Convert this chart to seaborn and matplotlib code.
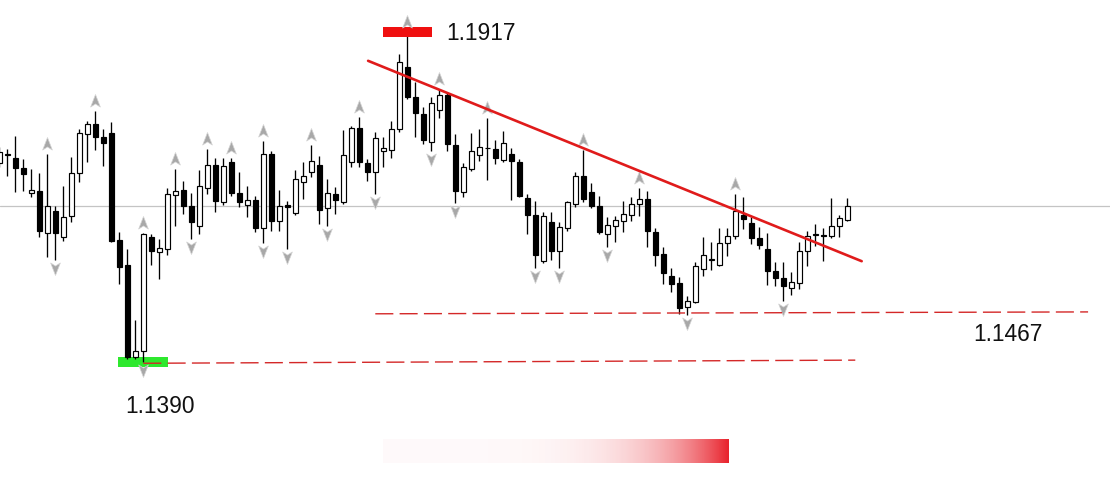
import numpy as np
import pandas as pd
import matplotlib
matplotlib.use("Agg")
import matplotlib.pyplot as plt
import seaborn as sns
from matplotlib.path import Path
from matplotlib.patches import Rectangle

# ---------------- data ----------------
first_bar = -1  # index of the first (partly hidden) candle
opens = [1.1708, 1.1721, 1.1716, 1.1700, 1.1660, 1.1663, 1.1596, 1.1631, 1.1590, 1.1623,
         1.1692, 1.1754, 1.1770, 1.1749, 1.1756, 1.1585, 1.1545, 1.1398, 1.1408, 1.1590,
         1.1566, 1.1570, 1.1657, 1.1665, 1.1639, 1.1607, 1.1668, 1.1705, 1.1645, 1.1709,
         1.1660, 1.1641, 1.1649, 1.1604, 1.1722, 1.1615, 1.1641, 1.1628, 1.1677, 1.1693,
         1.1705, 1.1636, 1.1658, 1.1645, 1.1709, 1.1764, 1.1708, 1.1693, 1.1727, 1.1729,
         1.1762, 1.1861, 1.1813, 1.1786, 1.1741, 1.1792, 1.1816, 1.1737, 1.1661, 1.1698,
         1.1721, 1.1732, 1.1730, 1.1713, 1.1722, 1.1709, 1.1652, 1.1625, 1.1551, 1.1614,
         1.1567, 1.1604, 1.1642, 1.1687, 1.1661, 1.1639, 1.1594, 1.1607, 1.1615, 1.1625,
         1.1642, 1.1650, 1.1598, 1.1562, 1.1527, 1.1516, 1.1478, 1.1486, 1.1538, 1.1553,
         1.1545, 1.1580, 1.1591, 1.1625, 1.1612, 1.1588, 1.1570, 1.1535, 1.1524, 1.1508,
         1.1516, 1.1567, 1.1593, 1.1593, 1.1591, 1.1607, 1.1617]
highs = [1.1733, 1.1730, 1.1751, 1.1714, 1.1698, 1.1692, 1.1722, 1.1639, 1.1671, 1.1717,
         1.1762, 1.1775, 1.1791, 1.1762, 1.1773, 1.1598, 1.1570, 1.1457, 1.1596, 1.1594,
         1.1586, 1.1668, 1.1698, 1.1679, 1.1660, 1.1697, 1.1730, 1.1716, 1.1716, 1.1716,
         1.1693, 1.1671, 1.1655, 1.1743, 1.1727, 1.1665, 1.1647, 1.1697, 1.1709, 1.1737,
         1.1719, 1.1682, 1.1670, 1.1760, 1.1767, 1.1781, 1.1714, 1.1757, 1.1749, 1.1775,
         1.1882, 1.1917, 1.1837, 1.1797, 1.1813, 1.1826, 1.1821, 1.1754, 1.1708, 1.1756,
         1.1762, 1.1780, 1.1744, 1.1759, 1.1732, 1.1714, 1.1658, 1.1647, 1.1629, 1.1629,
         1.1614, 1.1647, 1.1693, 1.1729, 1.1676, 1.1655, 1.1622, 1.1623, 1.1647, 1.1653,
         1.1668, 1.1663, 1.1604, 1.1574, 1.1540, 1.1526, 1.1495, 1.1550, 1.1590, 1.1582,
         1.1604, 1.1604, 1.1658, 1.1653, 1.1622, 1.1606, 1.1596, 1.1550, 1.1550, 1.1534,
         1.1582, 1.1599, 1.1610, 1.1604, 1.1652, 1.1625, 1.1652]
lows = [1.1701, 1.1687, 1.1661, 1.1663, 1.1653, 1.1590, 1.1558, 1.1553, 1.1583, 1.1614,
        1.1677, 1.1709, 1.1729, 1.1703, 1.1582, 1.1515, 1.1395, 1.1395, 1.1390, 1.1545,
        1.1522, 1.1561, 1.1607, 1.1626, 1.1586, 1.1594, 1.1658, 1.1629, 1.1641, 1.1655,
        1.1637, 1.1622, 1.1598, 1.1580, 1.1599, 1.1599, 1.1570, 1.1625, 1.1650, 1.1685,
        1.1610, 1.1607, 1.1626, 1.1642, 1.1701, 1.1701, 1.1679, 1.1658, 1.1701, 1.1716,
        1.1757, 1.1810, 1.1749, 1.1738, 1.1727, 1.1780, 1.1727, 1.1644, 1.1653, 1.1695,
        1.1711, 1.1681, 1.1706, 1.1709, 1.1649, 1.1653, 1.1594, 1.1540, 1.1548, 1.1553,
        1.1540, 1.1599, 1.1637, 1.1645, 1.1636, 1.1594, 1.1574, 1.1582, 1.1598, 1.1615,
        1.1623, 1.1574, 1.1543, 1.1515, 1.1502, 1.1467, 1.1465, 1.1484, 1.1527, 1.1537,
        1.1543, 1.1559, 1.1586, 1.1602, 1.1578, 1.1570, 1.1513, 1.1511, 1.1487, 1.1497,
        1.1507, 1.1543, 1.1575, 1.1551, 1.1588, 1.1590, 1.1615]
closes = [1.1725, 1.1722, 1.1700, 1.1690, 1.1665, 1.1599, 1.1639, 1.1596, 1.1622, 1.1692,
          1.1756, 1.1770, 1.1749, 1.1740, 1.1583, 1.1542, 1.1398, 1.1408, 1.1594, 1.1567,
          1.1572, 1.1658, 1.1663, 1.1639, 1.1614, 1.1671, 1.1705, 1.1647, 1.1703, 1.1660,
          1.1645, 1.1649, 1.1604, 1.1722, 1.1615, 1.1639, 1.1637, 1.1682, 1.1687, 1.1711,
          1.1633, 1.1660, 1.1649, 1.1721, 1.1764, 1.1709, 1.1693, 1.1748, 1.1732, 1.1762,
          1.1869, 1.1813, 1.1788, 1.1744, 1.1804, 1.1816, 1.1738, 1.1663, 1.1701, 1.1727,
          1.1733, 1.1731, 1.1716, 1.1740, 1.1711, 1.1655, 1.1625, 1.1561, 1.1623, 1.1567,
          1.1606, 1.1645, 1.1687, 1.1650, 1.1639, 1.1598, 1.1609, 1.1617, 1.1626, 1.1642,
          1.1650, 1.1599, 1.1561, 1.1532, 1.1515, 1.1476, 1.1487, 1.1543, 1.1561, 1.1554,
          1.1580, 1.1591, 1.1631, 1.1618, 1.1588, 1.1577, 1.1535, 1.1524, 1.1511, 1.1518,
          1.1567, 1.1591, 1.1594, 1.1592, 1.1607, 1.1620, 1.1639]

up_fractals = [5, 11, 17, 21, 25, 28, 32, 38, 44, 50, 54, 60, 72, 79, 91]
down_fractals = [6, 17, 23, 32, 35, 40, 46, 53, 56, 66, 69, 75, 85, 97]

trend_x = [45.1, 106.8]
trend_y = [1.1871, 1.1551]
support_low_x = [17.0, 106.0]
support_low_y = [1.1388, 1.1393]
support_high_x = [46.0, 135.1]
support_high_y = [1.1467, 1.1470]
current_price = 1.1639

high_bar, high_price, high_label = 50, 1.1917, "1.1917"
low_bar, low_price, low_label = 17, 1.1390, "1.1390"
support_label = "1.1467"

# ---------------- style ----------------
sns.set_theme(style="white")
plt.rcParams["font.family"] = ["Liberation Sans", "DejaVu Sans"]
plt.rcParams["lines.scale_dashes"] = False

fig = plt.figure(figsize=(11.1, 4.85), dpi=100)
fig.patch.set_facecolor("white")
ax = fig.add_axes([0, 0, 1, 1])
ax.set_facecolor("white")

df = pd.DataFrame({"open": opens, "high": highs, "low": lows, "close": closes})
df["x"] = np.arange(len(df)) + first_bar
df["bull"] = df["close"] >= df["open"]
df["bottom"] = df[["open", "close"]].min(axis=1)
df["height"] = (df["close"] - df["open"]).abs().clip(lower=0.00002)

# current price line
ax.axhline(current_price, color="#c4c4c4", lw=0.9, zorder=1)

# wicks
ax.vlines(df["x"], df["low"], df["high"], color="black", lw=0.95, zorder=2)
# bodies
ax.bar(df["x"], df["height"], bottom=df["bottom"], width=0.6,
       color=np.where(df["bull"], "white", "black"), edgecolor="black",
       linewidth=0.85, zorder=3)

# fractal markers
up_path = Path([(0, 1), (0.7, -0.8), (0, -0.35), (-0.7, -0.8), (0, 1)],
               [Path.MOVETO, Path.LINETO, Path.LINETO, Path.LINETO, Path.CLOSEPOLY])
down_path = Path([(0, -1), (0.7, 0.8), (0, 0.35), (-0.7, 0.8), (0, -1)],
                 [Path.MOVETO, Path.LINETO, Path.LINETO, Path.LINETO, Path.CLOSEPOLY])
ups = df.set_index("x").loc[up_fractals]
downs = df.set_index("x").loc[down_fractals]
sns.scatterplot(x=ups.index, y=ups["high"] + 0.0016, marker=up_path, s=100,
                color="#a8a8a8", edgecolor="#d4d4d4", linewidth=0.5, ax=ax, zorder=4)
sns.scatterplot(x=downs.index, y=downs["low"] - 0.0013, marker=down_path, s=100,
                color="#a8a8a8", edgecolor="#d4d4d4", linewidth=0.5, ax=ax, zorder=4)

# trend line
sns.lineplot(x=trend_x, y=trend_y, color="#e01b1b", lw=1.9, ax=ax, zorder=6)

# dashed support lines
ax.plot(support_low_x, support_low_y, color="#d42828", lw=1.0,
        linestyle=(0, (13, 4.5)), zorder=5)
ax.plot(support_high_x, support_high_y, color="#d42828", lw=1.0,
        linestyle=(0, (13, 4.5)), zorder=5)

# high / low markers
ax.add_patch(Rectangle((high_bar - 3.05, high_price - 0.00084), 6.1, 0.00168,
                       facecolor="#ef1010", edgecolor="none", zorder=2.5))
ax.add_patch(Rectangle((low_bar - 3.1, low_price - 0.00084), 6.15, 0.00168,
                       facecolor="#2ee82e", edgecolor="none", zorder=1.5))
ax.text(54.85, high_price, high_label, fontsize=16.4, color="#111111",
        ha="left", va="center")
ax.text(14.7, 1.1320, low_label, fontsize=16.4, color="#111111",
        ha="left", va="center")
ax.text(120.7, 1.1435, support_label, fontsize=16.4, color="#111111",
        ha="left", va="center")

# gradient bar
t = np.linspace(0, 1, 400)
grad = np.zeros((1, len(t), 4))
grad[..., 0] = 0.91
grad[..., 1] = 0.13
grad[..., 2] = 0.17
grad[..., 3] = 0.025 + 0.975 * t ** 5
ax.imshow(grad, extent=[46.96, 90.2, 1.1228, 1.1265], aspect="auto",
          interpolation="bilinear", zorder=1)

ax.set_xlim(-0.9125, 137.84)
ax.set_ylim(1.11952, 1.19697)
ax.axis("off")
if ax.get_legend() is not None:
    ax.get_legend().remove()

fig.savefig("out.png", dpi=100, facecolor="white")
